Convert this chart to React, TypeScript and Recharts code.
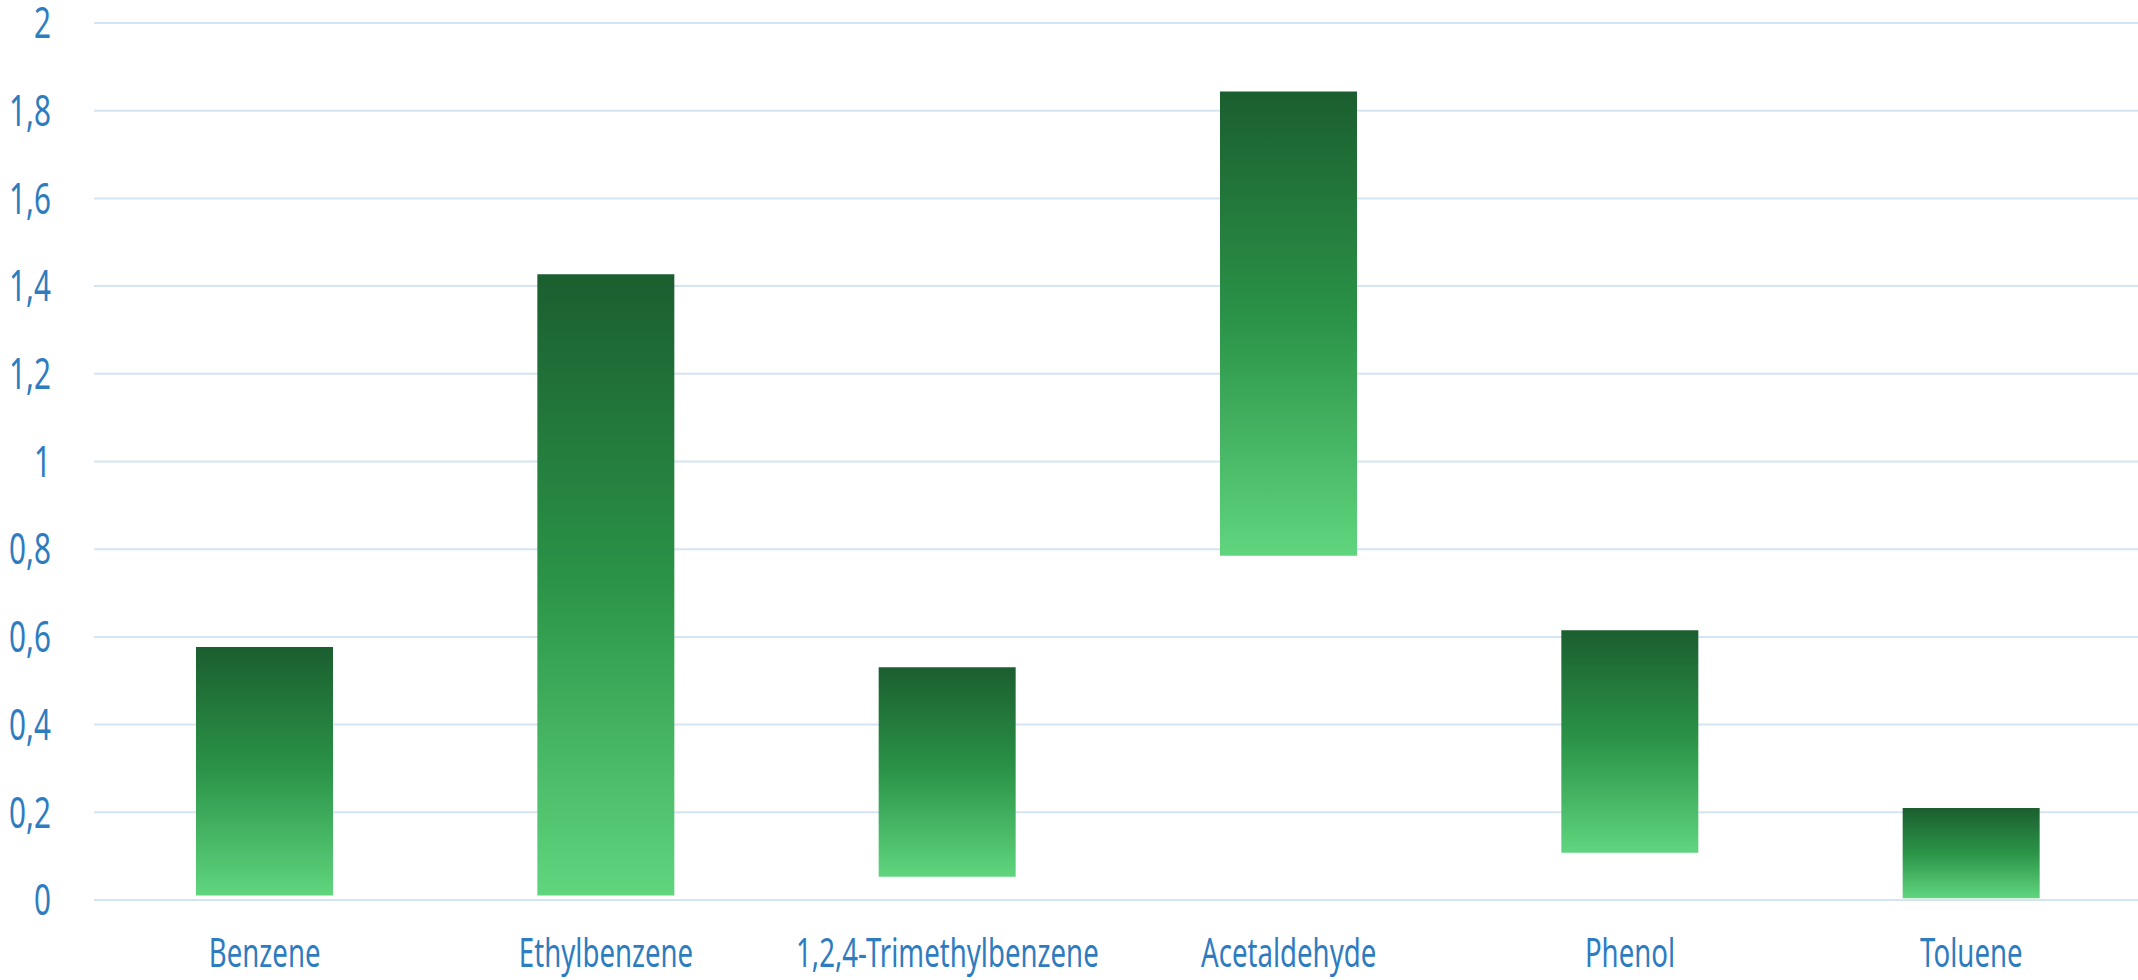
import { BarChart, Bar, XAxis, YAxis, CartesianGrid } from 'recharts';

const compounds = ['Benzene', 'Ethylbenzene', '1,2,4-Trimethylbenzene', 'Acetaldehyde', 'Phenol', 'Toluene'];
const lowValues = [0.01, 0.01, 0.053, 0.785, 0.108, 0.004];
const highValues = [0.577, 1.427, 0.531, 1.844, 0.615, 0.21];
const yTicks = [0, 0.2, 0.4, 0.6, 0.8, 1, 1.2, 1.4, 1.6, 1.8, 2];

const chartData = compounds.map((name, i) => ({
  name,
  range: [lowValues[i], highValues[i]]
}));

const font = "'Noto Sans', sans-serif";
const blue = '#2e7cc0';
// horizontal squeeze to get a condensed look from a regular-width face
const squeeze = 0.69;

const fmt = (v: number) => String(v).replace('.', ',');

const CategoryTick = ({ x, y, payload }: any) => (
  <g transform={`translate(${x},${y}) scale(${squeeze},1)`}>
    <text x={0} y={0} dy="0.71em" textAnchor="middle" fill={blue} fontSize={40} fontFamily={font}>
      {payload.value}
    </text>
  </g>
);

const ValueTick = ({ x, y, payload }: any) => (
  <g transform={`translate(${x},${y}) scale(${squeeze},1)`}>
    <text x={0} y={0} dy="0.355em" textAnchor="end" fill={blue} fontSize={43} fontFamily={font}>
      {fmt(payload.value)}
    </text>
  </g>
);

export default function App() {
  return (
    <div style={{ position: 'absolute', left: 0, top: 0, width: 2138, height: 980, overflow: 'hidden', background: '#fff' }}>
      <BarChart
        width={2142}
        height={980}
        data={chartData}
        margin={{ top: 23, right: 0, bottom: 0, left: 0 }}
        barSize={137}
      >
        <defs>
          <linearGradient id="barFill" x1="0" y1="0" x2="0" y2="1">
            <stop offset="0%" stopColor="#1b5e2f" />
            <stop offset="50%" stopColor="#2b9448" />
            <stop offset="100%" stopColor="#60d57e" />
          </linearGradient>
        </defs>
        <CartesianGrid vertical={false} stroke="#d4e4f3" strokeWidth={2} />
        <XAxis
          dataKey="name"
          height={80}
          axisLine={false}
          tickLine={false}
          tickSize={0}
          tickMargin={39}
          interval={0}
          tick={<CategoryTick />}
        />
        <YAxis
          width={94}
          domain={[0, 2]}
          ticks={yTicks}
          axisLine={false}
          tickLine={false}
          tickSize={0}
          tickMargin={43}
          tick={<ValueTick />}
        />
        <Bar dataKey="range" fill="url(#barFill)" isAnimationActive={false} />
      </BarChart>
    </div>
  );
}
